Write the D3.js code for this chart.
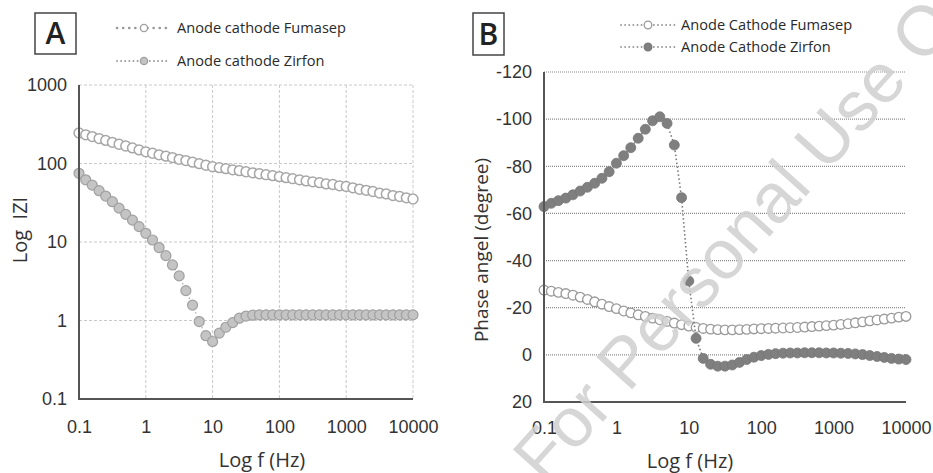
<!DOCTYPE html>
<html>
<head>
<meta charset="utf-8">
<script src="https://cdn.jsdelivr.net/npm/d3@7/dist/d3.min.js"></script>
<style>
  body { margin: 0; background: #fff; }
  svg { display: block; font-family: "Open Sans", sans-serif; }
</style>
</head>
<body>
<svg id="chart" width="933" height="473"></svg>
<script>
// EIS of anode/cathode with two separators: Bode magnitude (A) and phase (B)
const freq = [0.1,0.126,0.158,0.2,0.251,0.316,0.398,0.501,0.631,0.794,
  1,1.26,1.58,2,2.51,3.16,3.98,5.01,6.31,7.94,
  10,12.6,15.8,20,25.1,31.6,39.8,50.1,63.1,79.4,
  100,126,158,200,251,316,398,501,631,794,
  1000,1259,1585,1995,2512,3162,3981,5012,6310,7943,10000];

// |Z| (ohm)
const zFumasep = [245,232,220,208,197,186,176,167,158,149,
  141,135,129,124,119,113,109,104,99.5,95,
  91,88.5,86,83,81,78.5,76,74,72,70,
  68,66,64,62,60,58.5,57,55,54,52,
  51,49,47,45.5,44,42,41,39,38,36.5,35.3];
const zZirfon = [75,62,53,45,38.5,32.6,27,22.5,19,15.7,
  12.9,10.6,8.5,6.7,5.1,3.7,2.4,1.57,0.97,0.64,
  0.54,0.69,0.82,0.94,1.07,1.14,1.17,1.18,1.18,1.18,
  1.18,1.18,1.18,1.18,1.18,1.18,1.18,1.18,1.18,1.18,
  1.18,1.18,1.18,1.18,1.18,1.18,1.18,1.18,1.18,1.18,1.18];

// phase angle (degree)
const phFumasep = [-27.5,-27,-26.5,-26,-25.3,-24.5,-23.5,-22.5,-21.5,-20.5,
  -19.6,-18.6,-17.8,-17,-16.3,-15.6,-14.9,-14.2,-13.5,-12.8,
  -12.2,-11.6,-11.2,-10.9,-10.7,-10.6,-10.6,-10.7,-10.8,-11.0,
  -11.1,-11.2,-11.3,-11.4,-11.5,-11.6,-11.8,-12.0,-12.2,-12.4,
  -12.6,-12.9,-13.2,-13.6,-14.0,-14.4,-14.8,-15.2,-15.6,-16.0,-16.3];
const phZirfon = [-62.9,-64.3,-65.4,-66.5,-67.9,-69.5,-71.1,-72.8,-74.9,-77.7,
  -81.3,-84.5,-87.9,-91.9,-95.7,-99.3,-101,-98.2,-89,-66.7,
  -31.3,-7,1.5,4,4.8,4.8,4.3,3.2,2,1,
  0.3,-0.2,-0.5,-0.7,-0.8,-0.8,-0.9,-0.9,-0.9,-0.8,
  -0.8,-0.7,-0.6,-0.4,-0.1,0.3,0.7,1.1,1.5,1.8,2.0];

const xTicks = [0.1,1,10,100,1000,10000];
const xTickLabels = ['0.1','1','10','100','1000','10000'];
const zTicks = [0.1,1,10,100,1000];
const zTickLabels = ['0.1','1','10','100','1000'];
const phTicks = [-120,-100,-80,-60,-40,-20,0,20];

const legendA = ['Anode cathode Fumasep','Anode cathode Zirfon'];
const legendB = ['Anode Cathode Fumasep','Anode Cathode Zirfon'];

const svg = d3.select('#chart');
const AXIS = '#555', TXT = '#333';

function axisText(sel) {
  sel.select('.domain').remove();
  sel.selectAll('.tick line').remove();
  sel.selectAll('.tick text').attr('fill', TXT).attr('font-size', 18);
}

// ---------- panel A ----------
const xA = d3.scaleLog().domain([0.1, 10000]).range([79, 413]);
const yA = d3.scaleLog().domain([0.1, 1000]).range([399, 85]);
const gA = svg.append('g');

gA.append('g').selectAll('line').data(xTicks.slice(1)).join('line')
  .attr('x1', d => xA(d)).attr('x2', d => xA(d)).attr('y1', yA(1000)).attr('y2', yA(0.1))
  .attr('stroke', '#c9c9c9').attr('stroke-dasharray', '3,2');
gA.append('g').selectAll('line').data(zTicks.slice(1)).join('line')
  .attr('x1', xA(0.1)).attr('x2', xA(10000)).attr('y1', d => yA(d)).attr('y2', d => yA(d))
  .attr('stroke', '#c9c9c9').attr('stroke-dasharray', '3,2');

gA.append('g').attr('transform', `translate(0,${yA(0.1) + 13})`)
  .call(d3.axisBottom(xA).tickValues(xTicks).tickFormat((d, i) => xTickLabels[i]).tickSize(0).tickPadding(8))
  .call(axisText);
gA.append('g').attr('transform', `translate(${xA(0.1) - 12},0)`)
  .call(d3.axisLeft(yA).tickValues(zTicks).tickFormat((d, i) => zTickLabels[i]).tickSize(0).tickPadding(0))
  .call(axisText);

const lineA = d3.line().x((d, i) => xA(freq[i])).y(d => yA(d));
[zFumasep, zZirfon].forEach(s => gA.append('path').datum(s).attr('d', lineA)
  .attr('fill', 'none').attr('stroke', '#aaa').attr('stroke-width', 1.2).attr('stroke-dasharray', '1.5,2.5'));
gA.append('g').selectAll('circle').data(zFumasep).join('circle')
  .attr('cx', (d, i) => xA(freq[i])).attr('cy', d => yA(d)).attr('r', 4.9)
  .attr('fill', '#fff').attr('stroke', '#a6a6a6').attr('stroke-width', 1.5);
gA.append('g').selectAll('circle').data(zZirfon).join('circle')
  .attr('cx', (d, i) => xA(freq[i])).attr('cy', d => yA(d)).attr('r', 5)
  .attr('fill', '#c4c4c4').attr('stroke', '#a0a0a0').attr('stroke-width', 1.2);

gA.append('line').attr('x1', xA(0.1)).attr('x2', xA(0.1)).attr('y1', yA(1000)).attr('y2', yA(0.1))
  .attr('stroke', AXIS).attr('stroke-width', 2);
gA.append('line').attr('x1', xA(0.1) - 1).attr('x2', xA(10000)).attr('y1', yA(0.1)).attr('y2', yA(0.1))
  .attr('stroke', AXIS).attr('stroke-width', 2);

gA.append('text').attr('x', 262).attr('y', 467).attr('text-anchor', 'middle')
  .attr('font-size', 20).attr('fill', TXT).text('Log f (Hz)');
gA.append('text').attr('transform', 'translate(27,230) rotate(-90)').attr('text-anchor', 'middle')
  .attr('font-size', 20).attr('fill', TXT).style('white-space', 'pre').text('Log  IZI');

gA.append('rect').attr('x', 35).attr('y', 13).attr('width', 41).attr('height', 41)
  .attr('fill', 'none').attr('stroke', '#444').attr('stroke-width', 1.5);
gA.append('text').attr('x', 55.5).attr('y', 44).attr('text-anchor', 'middle')
  .attr('font-size', 30).attr('font-weight', 600).attr('fill', '#222').text('A');

legendA.forEach((t, i) => {
  const y = [28, 61][i];
  gA.append('line').attr('x1', 117).attr('x2', 169).attr('y1', y).attr('y2', y)
    .attr('stroke', '#999').attr('stroke-linecap', 'round')
    .attr('stroke-width', i ? 1.8 : 2.6).attr('stroke-dasharray', i ? '0.1,4' : '0.1,6');
  gA.append('circle').attr('cx', 144).attr('cy', y).attr('r', 3.6)
    .attr('fill', i ? '#c4c4c4' : '#fff').attr('stroke', '#a0a0a0').attr('stroke-width', 1.4);
  gA.append('text').attr('x', 177).attr('y', y + 5).attr('font-size', 14.6).attr('font-weight', 500)
    .attr('fill', '#2a2a2a').text(t);
});

// ---------- panel B ----------
const xB = d3.scaleLog().domain([0.1, 10000]).range([544, 906]);
const yB = d3.scaleLinear().domain([-120, 20]).range([72, 402]);
const gB = svg.append('g');

gB.append('g').selectAll('line').data(phTicks.slice(0, -1)).join('line')
  .attr('x1', xB(0.1)).attr('x2', xB(10000)).attr('y1', d => yB(d)).attr('y2', d => yB(d))
  .attr('stroke', '#8a8a8a').attr('stroke-width', 1.2).attr('stroke-dasharray', '1,1');

gB.append('g').attr('transform', `translate(0,${yB(20) + 11})`)
  .call(d3.axisBottom(xB).tickValues(xTicks).tickFormat((d, i) => xTickLabels[i]).tickSize(0).tickPadding(8))
  .call(axisText);
gB.append('g').attr('transform', `translate(${xB(0.1) - 12},0)`)
  .call(d3.axisLeft(yB).tickValues(phTicks).tickFormat(d => String(d)).tickSize(0).tickPadding(0))
  .call(axisText);

const lineB = d3.line().x((d, i) => xB(freq[i])).y(d => yB(d));
gB.append('path').datum(phFumasep).attr('d', lineB).attr('fill', 'none')
  .attr('stroke', '#999').attr('stroke-width', 1.3).attr('stroke-dasharray', '1.5,2.5');
gB.append('g').selectAll('circle').data(phFumasep).join('circle')
  .attr('cx', (d, i) => xB(freq[i])).attr('cy', d => yB(d)).attr('r', 4.8)
  .attr('fill', '#fff').attr('stroke', '#9a9a9a').attr('stroke-width', 1.3);
gB.append('path').datum(phZirfon).attr('d', lineB).attr('fill', 'none')
  .attr('stroke', '#7a7a7a').attr('stroke-width', 1.6).attr('stroke-dasharray', '1.5,2.5');
gB.append('g').selectAll('circle').data(phZirfon).join('circle')
  .attr('cx', (d, i) => xB(freq[i])).attr('cy', d => yB(d)).attr('r', 5)
  .attr('fill', '#7f7f7f').attr('stroke', '#777').attr('stroke-width', 0.8);

gB.append('line').attr('x1', xB(0.1)).attr('x2', xB(0.1)).attr('y1', yB(-120)).attr('y2', yB(20))
  .attr('stroke', AXIS).attr('stroke-width', 2);
gB.append('line').attr('x1', xB(0.1) - 1).attr('x2', xB(10000)).attr('y1', yB(20)).attr('y2', yB(20))
  .attr('stroke', AXIS).attr('stroke-width', 2);

gB.append('text').attr('x', 690).attr('y', 468).attr('text-anchor', 'middle')
  .attr('font-size', 20).attr('fill', TXT).text('Log f (Hz)');
gB.append('text').attr('transform', 'translate(488,250) rotate(-90)').attr('text-anchor', 'middle')
  .attr('font-size', 19).attr('fill', TXT).text('Phase angel (degree)');

gB.append('rect').attr('x', 473).attr('y', 13).attr('width', 31).attr('height', 42)
  .attr('fill', 'none').attr('stroke', '#444').attr('stroke-width', 1.5);
gB.append('text').attr('x', 488.5).attr('y', 45).attr('text-anchor', 'middle')
  .attr('font-size', 30).attr('font-weight', 600).attr('fill', '#222').text('B');

legendB.forEach((t, i) => {
  const y = [25, 47][i];
  gB.append('line').attr('x1', 621).attr('x2', 676).attr('y1', y).attr('y2', y)
    .attr('stroke', '#999').attr('stroke-linecap', 'round')
    .attr('stroke-width', 1.8).attr('stroke-dasharray', '0.1,4');
  gB.append('circle').attr('cx', 648).attr('cy', y).attr('r', 3.8)
    .attr('fill', i ? '#7f7f7f' : '#fff').attr('stroke', i ? '#777' : '#9a9a9a').attr('stroke-width', 1.3);
  gB.append('text').attr('x', 681).attr('y', y + 5).attr('font-size', 14.6).attr('font-weight', 500)
    .attr('fill', '#2a2a2a').text(t);
});

// watermark over panel B
svg.append('text').attr('transform', 'translate(545,486) rotate(-48)')
  .attr('font-family', '"Liberation Sans", sans-serif').attr('font-size', 70)
  .attr('fill', '#cfcfcf').attr('opacity', 0.85).text('For Personal Use Only');
</script>
</body>
</html>
